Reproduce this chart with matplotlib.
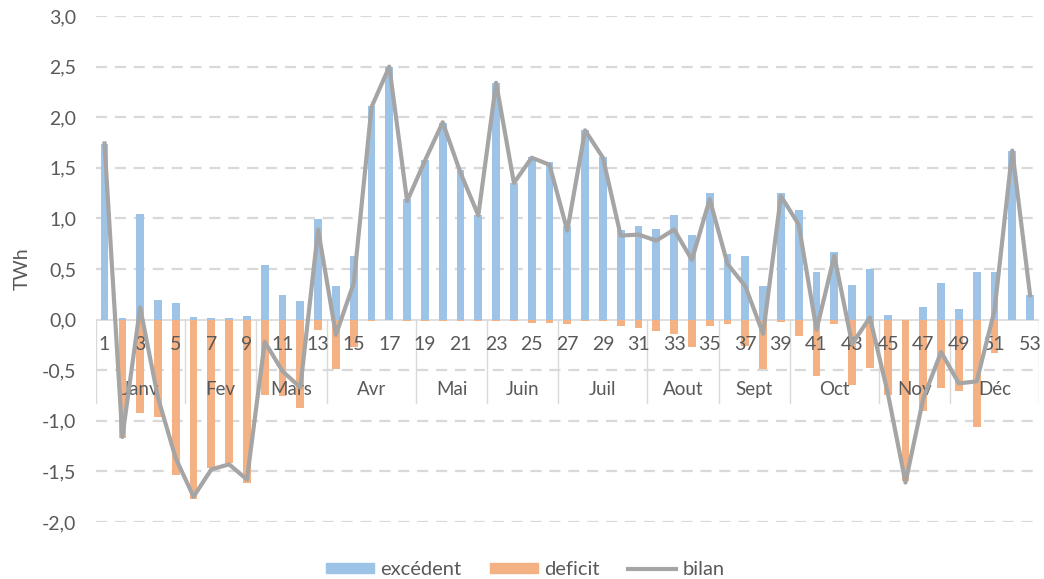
import matplotlib
matplotlib.use("Agg")
import matplotlib.pyplot as plt
from matplotlib.patches import Patch
from matplotlib.lines import Line2D
import numpy as np

plt.rcParams["font.family"] = ["Lato", "DejaVu Sans"]

# weekly values (TWh), weeks 1..53
weeks = list(range(1, 54))
excedent = [1.74, 0.02, 1.04, 0.19, 0.16, 0.03, 0.02, 0.02, 0.04, 0.54,
            0.24, 0.18, 0.99, 0.33, 0.63, 2.11, 2.50, 1.19, 1.58, 1.94,
            1.48, 1.03, 2.34, 1.35, 1.61, 1.56, 0.92, 1.87, 1.61, 0.89,
            0.92, 0.90, 1.03, 0.84, 1.25, 0.65, 0.63, 0.33, 1.25, 1.08,
            0.47, 0.67, 0.34, 0.50, 0.05, 0.00, 0.12, 0.36, 0.10, 0.47,
            0.47, 1.67, 0.24]
deficit = [0.00, -1.17, -0.92, -0.96, -1.54, -1.77, -1.47, -1.42, -1.61, -0.74,
           -0.75, -0.87, -0.10, -0.49, -0.27, -0.01, 0.00, -0.01, -0.01, -0.01,
           -0.01, -0.01, -0.01, -0.01, -0.03, -0.03, -0.04, -0.01, -0.01, -0.06,
           -0.08, -0.11, -0.14, -0.27, -0.06, -0.04, -0.26, -0.49, -0.02, -0.16,
           -0.56, -0.04, -0.65, -0.48, -0.74, -1.59, -0.90, -0.68, -0.71, -1.06,
           -0.33, 0.00, 0.00]
bilan = [1.74, -1.16, 0.12, -0.77, -1.37, -1.75, -1.48, -1.43, -1.58, -0.22,
         -0.51, -0.67, 0.89, -0.15, 0.36, 2.10, 2.50, 1.17, 1.57, 1.95,
         1.45, 1.03, 2.34, 1.35, 1.60, 1.53, 0.88, 1.87, 1.60, 0.83,
         0.84, 0.78, 0.89, 0.59, 1.19, 0.55, 0.33, -0.14, 1.22, 0.94,
         -0.10, 0.63, -0.24, 0.02, -0.72, -1.61, -0.78, -0.32, -0.63, -0.61,
         0.09, 1.67, 0.24]

months = ["Janv", "Fev", "Mars", "Avr", "Mai", "Juin", "Juil", "Aout",
          "Sept", "Oct", "Nov", "Déc"]
month_last_week = [5, 9, 13, 18, 22, 26, 31, 35, 39, 44, 48, 53]

BLUE = "#9dc3e6"
ORANGE = "#f4b183"
GREY = "#a5a5a5"
TXT = "#595959"
GRID = "#d9d9d9"

fig = plt.figure(figsize=(10.44, 5.79), dpi=100)
ax = fig.add_axes([0.0916, 0.0984, 0.9036, 0.874])

ax.bar(weeks, excedent, width=0.43, color=BLUE, zorder=2)
ax.bar(weeks, deficit, width=0.43, color=ORANGE, zorder=2)
ax.plot(weeks, bilan, color=GREY, lw=3, zorder=4, solid_joinstyle="round")

ax.set_xlim(0.5, 53.5)
ax.set_ylim(-2.0, 3.0)
yt = np.arange(-2.0, 3.01, 0.5)
ax.set_yticks(yt)
ax.set_yticklabels([f"{v:.1f}".replace(".", ",") for v in yt],
                   color=TXT, fontsize=14)
ax.tick_params(axis="y", length=0, pad=14)
ax.set_xticks([])
for v in yt:
    if abs(v) > 1e-9:
        ax.axhline(v, color=GRID, lw=1.6, ls=(0, (5, 3.5)), zorder=1)
ax.axhline(0, color=GRID, lw=1.2, zorder=1)
for s in ax.spines.values():
    s.set_visible(False)

# week numbers along the zero line
for w in weeks[::2]:
    ax.text(w, -0.25, str(w), ha="center", va="center", color=TXT,
            fontsize=14, zorder=3)

# month groups with separators
starts = [1] + [m + 1 for m in month_last_week[:-1]]
ax.plot([0.5, 0.5], [0, -0.82], color=GRID, lw=1, zorder=1)
for name, a, b in zip(months, starts, month_last_week):
    ax.plot([b + 0.5, b + 0.5], [0, -0.82], color=GRID, lw=1, zorder=1)
    ax.text((a + b) / 2, -0.69, name, ha="center", va="center", color=TXT,
            fontsize=13.5, zorder=3)

ax.set_ylabel("TWh", color=TXT, fontsize=14, labelpad=8)

handles = [Patch(color=BLUE), Patch(color=ORANGE),
           Line2D([0], [0], color=GREY, lw=3)]
fig.legend(handles, ["excédent", "deficit", "bilan"], loc="lower center",
           bbox_to_anchor=(0.503, -0.03), ncol=3, frameon=False,
           fontsize=14.5, handlelength=2.4, handleheight=0.45,
           columnspacing=1.4, handletextpad=0.3, labelcolor=TXT)

fig.savefig("out.png", dpi=100)
